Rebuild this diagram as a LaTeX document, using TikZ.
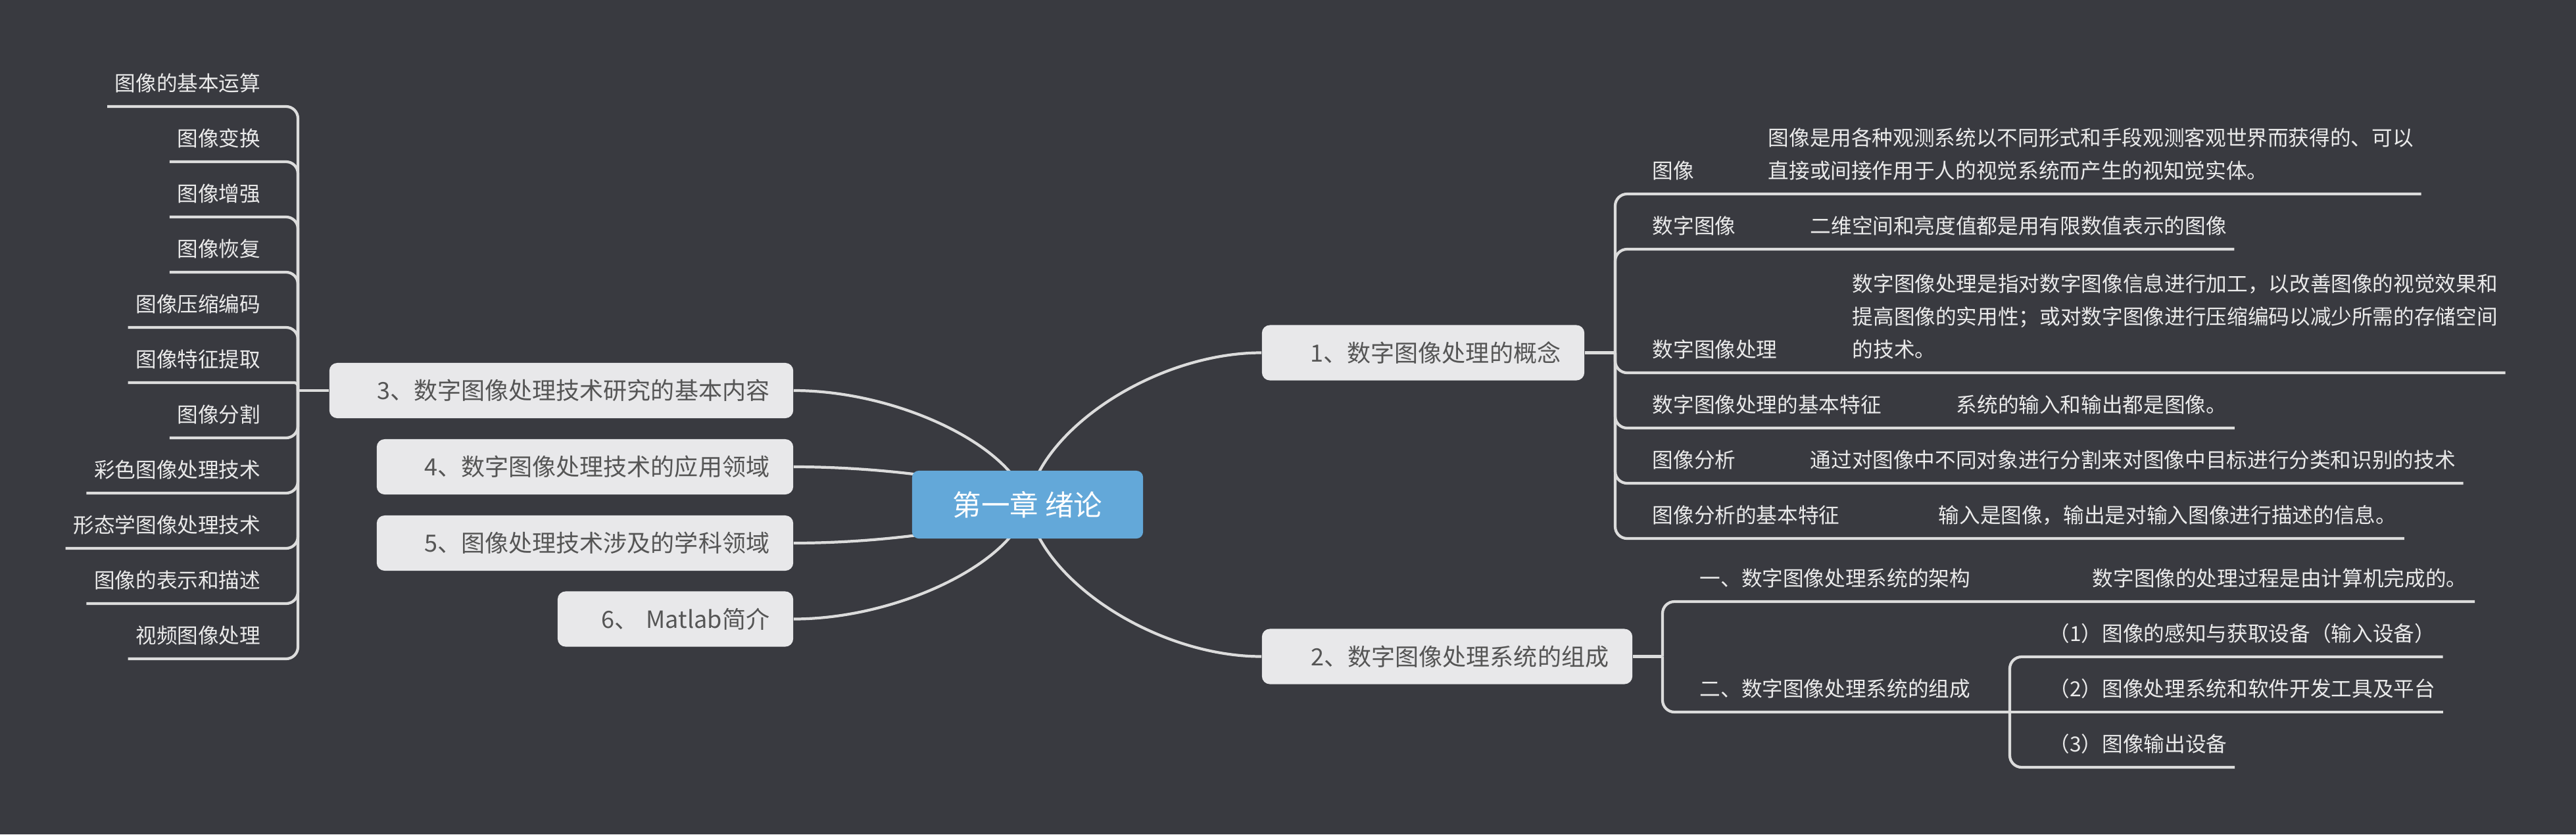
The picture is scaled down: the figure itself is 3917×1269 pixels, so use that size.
\documentclass[tikz,border=0pt]{standalone}
\usepackage{fontspec}
\setmainfont{Noto Sans CJK SC}

\definecolor{mapbg}{HTML}{393A40}
\definecolor{maplink}{HTML}{DCDCDC}
\definecolor{topicfill}{HTML}{E8E8EA}
\definecolor{topictext}{HTML}{555555}
\definecolor{rootfill}{HTML}{63A8D9}
\definecolor{leaftext}{HTML}{EAEAEA}

\pgfdeclarelayer{paper}
\pgfdeclarelayer{links}
\pgfsetlayers{paper,links,main}

\begin{document}
\begin{tikzpicture}[x=0.01cm, y=-0.01cm,
  link/.style={draw=maplink, line width=1.2pt},
  elbow/.style={link, rounded corners=0.18cm},
  root/.style={fill=rootfill, text=white, rounded corners=0.1cm, minimum width=3.51cm,
    minimum height=1.03cm, inner sep=0pt, font=\fontsize{12.4}{15}\selectfont},
  topic/.style={fill=topicfill, text=topictext, rounded corners=0.12cm, minimum height=0.84cm,
    inner xsep=0.36cm, inner ysep=0pt, align=right, font=\fontsize{10.25}{12}\selectfont},
  leaf/.style={text=leaftext, inner xsep=0.11cm, inner ysep=0.08cm, align=left,
    font=\fontsize{9}{14.23}\selectfont, execute at end node=\strut}]
  % Mapa do capitulo 1: um tema ao centro, seis ramos, e as folhas assentes numa linha
  % por baixo do texto (o fundo de cada no e' a propria linha).
  \begin{pgfonlayer}{paper}
    \fill[mapbg] (0,0) rectangle (3917,1269);
  \end{pgfonlayer}

  \node[root] (root) at (1562.5,767.5) {第一章 绪论};
  \node[topic, text width=4.18cm] (b1) at (2164,536.5) {1、数字图像处理的概念};
  \node[topic, text width=4.91cm] (b2) at (2200.5,998.5) {2、数字图像处理系统的组成};
  \node[topic, text width=6.33cm] (b3) at (853.5,594) {3、数字图像处理技术研究的基本内容};
  \node[topic, text width=5.61cm] (b4) at (889.5,710) {4、数字图像处理技术的应用领域};
  \node[topic, text width=5.61cm] (b5) at (889.5,826) {5、图像处理技术涉及的学科领域};
  \node[topic, text width=2.86cm] (b6) at (1027,941.5) {6、 Matlab简介};

  \begin{pgfonlayer}{links}
    \draw[link] (root.center) .. controls +(18,-115) and +(-160,0) .. (b1.west);
    \draw[link] (root.center) .. controls +(18,115) and +(-160,0) .. (b2.west);
    \draw[link] (root.center) .. controls +(-18,-87) and +(160,0) .. (b3.east);
    \draw[link] (root.center) .. controls +(-18,-29) and +(160,0) .. (b4.east);
    \draw[link] (root.center) .. controls +(-18,29) and +(160,0) .. (b5.east);
    \draw[link] (root.center) .. controls +(-18,87) and +(160,0) .. (b6.east);
  \end{pgfonlayer}

  \coordinate (b1j) at (2456,536.5);
  \coordinate (b2j) at (2528,998.5);
  \coordinate (b3j) at (453,594);
  \coordinate (s2j) at (3056,1083);

  % ramo 3, folhas a esquerda
  \node[leaf, anchor=south east] (l1) at (408,162) {图像的基本运算};
  \node[leaf, anchor=south east] (l2) at (408,246) {图像变换};
  \node[leaf, anchor=south east] (l3) at (408,330) {图像增强};
  \node[leaf, anchor=south east] (l4) at (408,414) {图像恢复};
  \node[leaf, anchor=south east] (l5) at (408,498) {图像压缩编码};
  \node[leaf, anchor=south east] (l6) at (408,582) {图像特征提取};
  \node[leaf, anchor=south east] (l7) at (408,666) {图像分割};
  \node[leaf, anchor=south east] (l8) at (408,750) {彩色图像处理技术};
  \node[leaf, anchor=south east] (l9) at (408,834) {形态学图像处理技术};
  \node[leaf, anchor=south east] (l10) at (408,918) {图像的表示和描述};
  \node[leaf, anchor=south east] (l11) at (408,1002) {视频图像处理};
  \draw[link] (b3.west) -- (b3j);
  \draw[elbow] (l1.south west) -- (b3j |- l1.south) -- (b3j);
  \draw[elbow] (l2.south west) -- (b3j |- l2.south) -- (b3j);
  \draw[elbow] (l3.south west) -- (b3j |- l3.south) -- (b3j);
  \draw[elbow] (l4.south west) -- (b3j |- l4.south) -- (b3j);
  \draw[elbow] (l5.south west) -- (b3j |- l5.south) -- (b3j);
  \draw[link, rounded corners=0.05cm] (l6.south west) -- (b3j |- l6.south) -- (b3j);
  \draw[elbow] (l7.south west) -- (b3j |- l7.south) -- (b3j);
  \draw[elbow] (l8.south west) -- (b3j |- l8.south) -- (b3j);
  \draw[elbow] (l9.south west) -- (b3j |- l9.south) -- (b3j);
  \draw[elbow] (l10.south west) -- (b3j |- l10.south) -- (b3j);
  \draw[elbow] (l11.south west) -- (b3j |- l11.south) -- (b3j);

  % ramo 1
  \node[leaf, anchor=south west] (c1) at (2501,295) {图像};
  \node[leaf, anchor=south west] (c1d) at (2677,295)
    {图像是用各种观测系统以不同形式和手段观测客观世界而获得的、可以\\直接或间接作用于人的视觉系统而产生的视知觉实体。};
  \node[leaf, anchor=south west] (c2) at (2501,379) {数字图像};
  \node[leaf, anchor=south west] (c2d) at (2741,379) {二维空间和亮度值都是用有限数值表示的图像};
  \node[leaf, anchor=south west] (c3) at (2501,567) {数字图像处理};
  \node[leaf, anchor=south west] (c3d) at (2805,567)
    {数字图像处理是指对数字图像信息进行加工，以改善图像的视觉效果和\\提高图像的实用性；或对数字图像进行压缩编码以减少所需的存储空间\\的技术。};
  \node[leaf, anchor=south west] (c4) at (2501,651) {数字图像处理的基本特征};
  \node[leaf, anchor=south west] (c4d) at (2963,651) {系统的输入和输出都是图像。};
  \node[leaf, anchor=south west] (c5) at (2501,735) {图像分析};
  \node[leaf, anchor=south west] (c5d) at (2741,735) {通过对图像中不同对象进行分割来对图像中目标进行分类和识别的技术};
  \node[leaf, anchor=south west] (c6) at (2501,819) {图像分析的基本特征};
  \node[leaf, anchor=south west] (c6d) at (2936,819) {输入是图像，输出是对输入图像进行描述的信息。};
  \draw[link] (b1.east) -- (b1j);
  \draw[elbow] (b1j) -- (b1j |- c1.south) -- (c1d.south east);
  \draw[elbow] (b1j) -- (b1j |- c2.south) -- (c2d.south east);
  \draw[elbow] (b1j) -- (b1j |- c3.south) -- (c3d.south east);
  \draw[elbow] (b1j) -- (b1j |- c4.south) -- (c4d.south east);
  \draw[elbow] (b1j) -- (b1j |- c5.south) -- (c5d.south east);
  \draw[elbow] (b1j) -- (b1j |- c6.south) -- (c6d.south east);

  % ramo 2
  \node[leaf, anchor=south west] (s1) at (2573,915) {一、数字图像处理系统的架构};
  \node[leaf, anchor=south west] (s1d) at (3170,915) {数字图像的处理过程是由计算机完成的。};
  \node[leaf, anchor=south west] (s2) at (2573,1083) {二、数字图像处理系统的组成};
  \node[leaf, anchor=south west] (t1) at (3104,999) {（1）图像的感知与获取设备（输入设备）};
  \node[leaf, anchor=south west] (t2) at (3104,1083) {（2）图像处理系统和软件开发工具及平台};
  \node[leaf, anchor=south west] (t3) at (3104,1167) {（3）图像输出设备};
  \draw[link] (b2.east) -- (b2j);
  \draw[elbow] (b2j) -- (b2j |- s1.south) -- (s1d.south east);
  \draw[elbow] (b2j) -- (b2j |- s2.south) -- (s2j);
  \draw[elbow] (s2j) -- (s2j |- t1.south) -- (t1.south east);
  \draw[link] (s2j) -- (t2.south east);
  \draw[elbow] (s2j) -- (s2j |- t3.south) -- (t3.south east);
\end{tikzpicture}
\end{document}
